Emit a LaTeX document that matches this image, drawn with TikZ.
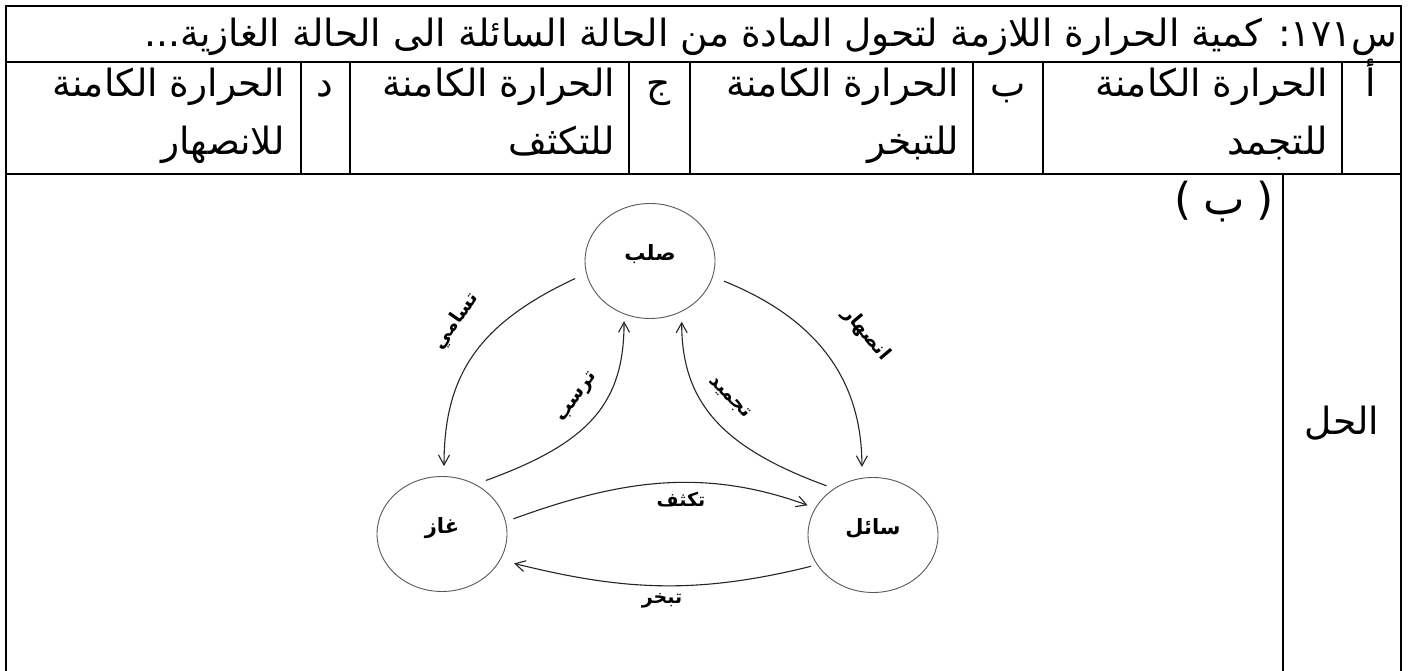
\documentclass[tikz,border=0pt]{standalone}
\usepackage{fontspec}
\usetikzlibrary{arrows.meta,shapes.geometric}
\newfontfamily\arabicfont[Script=Arabic]{DejaVu Sans}
\newfontfamily\latinsans{DejaVu Sans}
\TeXXeTstate=1
\newcommand{\artxt}[1]{{\arabicfont\beginR #1\endR}}
\begin{document}
\begin{tikzpicture}[x=1pt,y=1pt,
  tbl/.style={line width=2.4pt},
  qtext/.style={font=\fontsize{37.5}{44}\selectfont, inner sep=0pt},
  state/.style={ellipse, draw=black!65, line width=0.9pt, minimum width=130pt, minimum height=115pt, inner sep=0pt},
  statetext/.style={font=\bfseries\fontsize{21}{25}\selectfont, inner sep=0pt},
  arr/.style={draw=black!85, line width=1.1pt, -{Straight Barb[length=10pt,width=11pt]}},
  lbl/.style={font=\bfseries\fontsize{19}{22}\selectfont, inner sep=0pt}]
\useasboundingbox (0,0) rectangle (1410,671);
\fill[white] (0,0) rectangle (1410,671);

% table
\draw[tbl, line join=miter] (6,-5) -- (6,665) -- (1401,665) -- (1401,-5);
\draw[tbl] (6,609) -- (1401,609);
\draw[tbl] (6,497) -- (1401,497);
\foreach \x in {301,350,629,690,973,1043,1342} \draw[tbl] (\x,609) -- (\x,497);
\draw[tbl] (1283,497) -- (1283,-5);

% question
\node[qtext, anchor=base east] (q) at (1397,624) {\artxt{س١٧١: كمية الحرارة اللازمة لتحول المادة من الحالة السائلة الى الحالة الغازية...}};

% options
\node[qtext, anchor=base] (la) at (1371,574) {\artxt{أ}};
\node[qtext, anchor=base east] (a1) at (1328,574) {\artxt{الحرارة الكامنة}};
\node[qtext, anchor=base east] (a2) at (1328,516) {\artxt{للتجمد}};
\node[qtext, anchor=base] (lb) at (1008,574) {\artxt{ب}};
\node[qtext, anchor=base east] (b1) at (959,574) {\artxt{الحرارة الكامنة}};
\node[qtext, anchor=base east] (b2) at (959,516) {\artxt{للتبخر}};
\node[qtext, anchor=base] (lc) at (659,574) {\artxt{ج}};
\node[qtext, anchor=base east] (c1) at (615,574) {\artxt{الحرارة الكامنة}};
\node[qtext, anchor=base east] (c2) at (615,516) {\artxt{للتكثف}};
\node[qtext, anchor=base] (ld) at (325,574) {\artxt{د}};
\node[qtext, anchor=base east] (d1) at (285,574) {\artxt{الحرارة الكامنة}};
\node[qtext, anchor=base east] (d2) at (285,516) {\artxt{للانصهار}};

% solution
\node[qtext, font=\fontsize{44}{50}\selectfont, anchor=base] (ans) at (1224,456) {{\latinsans(}\hspace{12pt}\artxt{ب}\hspace{12pt}{\latinsans)}};
\node[qtext] (sol) at (1342,248) {\artxt{الحل}};

% diagram
\node[state] (solid) at (650,410) {};
\node[state] (gas) at (442,137) {};
\node[state] (liquid) at (873,136) {};
\node[statetext] (solidtxt) at ([yshift=7pt]solid.center) {\artxt{صلب}};
\node[statetext] (gastxt) at ([yshift=6pt]gas.center) {\artxt{غاز}};
\node[statetext] (liquidtxt) at ([yshift=7pt]liquid.center) {\artxt{سائل}};

\draw[arr, shorten <=12pt, shorten >=10pt] (solid.191) .. controls +(205:120) and +(90:100) .. (gas.88);
\draw[arr, shorten <=12pt, shorten >=11pt] (solid.346) .. controls +(338:110) and +(90:100) .. (liquid.101);
\draw[arr, shorten <=11pt, shorten >=7pt] (gas.56) .. controls +(20:120) and +(270:90) .. (solid.244);
\draw[arr, shorten <=8pt, shorten >=10pt] (liquid.130) .. controls +(160:120) and +(270:90) .. (solid.302);
\draw[arr, shorten <=8pt, shorten >=8pt] (gas.11) .. controls +(20:120) and +(160:120) .. (liquid.155);
\draw[arr, shorten <=6pt, shorten >=14pt] (liquid.208) .. controls +(194:125) and +(346:125) .. (gas.336);

\node[lbl, rotate=55] (t1) at (456,350) {\artxt{تسامي}};
\node[lbl, rotate=-50] (t2) at (866,337) {\artxt{انصهار}};
\node[lbl, rotate=55] (t3) at (578,273) {\artxt{ترسب}};
\node[lbl, rotate=-45] (t4) at (729,273) {\artxt{تجميد}};
\node[lbl] (t5) at (681,171) {\artxt{تكثف}};
\node[lbl] (t6) at (662,70) {\artxt{تبخر}};
\end{tikzpicture}
\end{document}
